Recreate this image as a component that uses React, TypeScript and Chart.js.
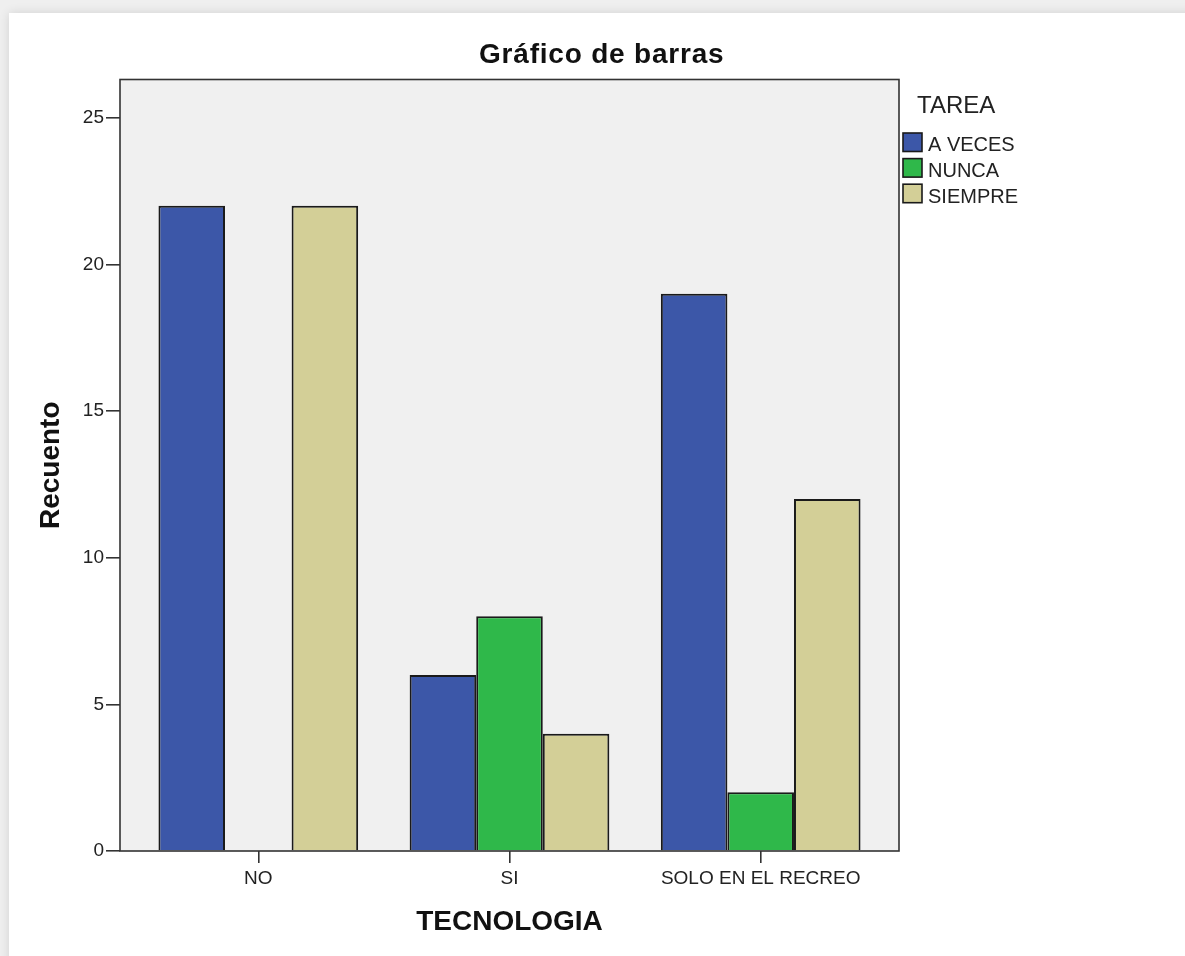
import React, { useEffect, useRef } from "react";
import { Chart, registerables } from "chart.js";

Chart.register(...registerables);

const CATEGORIES = ["NO", "SI", "SOLO EN EL RECREO"];
const SERIES_LABELS = ["A VECES", "NUNCA", "SIEMPRE"];
const A_VECES = [22, 6, 19];
const NUNCA = [0, 8, 2];
const SIEMPRE = [22, 4, 12];
const SERIES_COLORS = ["#3c57a8", "#2fb84a", "#d3cf97"];
const Y_TICKS = [0, 5, 10, 15, 20, 25];
const Y_MAX = 26.3;
const TITLE = "Gráfico de barras";
const LEGEND_TITLE = "TAREA";
const X_TITLE = "TECNOLOGIA";
const Y_TITLE = "Recuento";

const FONT = "'Liberation Sans', Arial, Helvetica, sans-serif";
const PLOT_BG = "#f0f0f0";
const FRAME = "#333333";

const framePlugin = {
  id: "frame",
  beforeDraw(chart: any) {
    const { ctx, chartArea } = chart;
    ctx.save();
    ctx.fillStyle = PLOT_BG;
    ctx.fillRect(chartArea.left, chartArea.top, chartArea.right - chartArea.left, chartArea.bottom - chartArea.top);
    ctx.restore();
  },
  afterDraw(chart: any) {
    const { ctx, chartArea } = chart;
    ctx.save();
    ctx.strokeStyle = FRAME;
    ctx.lineWidth = 1.6;
    ctx.strokeRect(chartArea.left, chartArea.top, chartArea.right - chartArea.left, chartArea.bottom - chartArea.top);

    // main title
    ctx.fillStyle = "#111";
    ctx.font = `bold 28px ${FONT}`;
    (ctx as any).letterSpacing = "0.8px";
    ctx.textAlign = "left";
    ctx.textBaseline = "alphabetic";
    ctx.fillText(TITLE, 479, 63);
    (ctx as any).letterSpacing = "0px";

    // legend
    const lx = 903;
    ctx.font = `24px ${FONT}`;
    ctx.fillStyle = "#222";
    ctx.fillText(LEGEND_TITLE, 917, 113);
    ctx.font = `20px ${FONT}`;
    chart.data.datasets.forEach((ds: any, i: number) => {
      const y = 133 + i * 25.6;
      ctx.fillStyle = ds.backgroundColor;
      ctx.fillRect(lx, y, 19, 18.5);
      ctx.strokeStyle = "#1a1a1a";
      ctx.lineWidth = 1.6;
      ctx.strokeRect(lx, y, 19, 18.5);
      ctx.fillStyle = "#222";
      ctx.fillText(ds.label, 928, y + 18.3);
    });
    ctx.restore();
  },
};

export default function App() {
  const ref = useRef<HTMLCanvasElement | null>(null);

  useEffect(() => {
    if (!ref.current) return;
    const seriesValues = [A_VECES, NUNCA, SIEMPRE];
    const chart = new Chart(ref.current, {
      type: "bar",
      data: {
        datasets: SERIES_LABELS.map((label, si) => ({
          label,
          data: seriesValues[si].map((v, i) => ({ x: i, y: v })),
          backgroundColor: SERIES_COLORS[si],
          borderColor: "#1a1a1a",
          borderWidth: 2,
          categoryPercentage: 0.795,
          barPercentage: 1,
        })),
      },
      options: {
        responsive: false,
        devicePixelRatio: 1,
        animation: false,
        layout: { padding: { top: 79.5, right: 286, bottom: 0, left: 0 } },
        plugins: {
          legend: { display: false },
          title: { display: false },
          tooltip: { enabled: false },
        },
        scales: {
          x: {
            type: "linear",
            min: -0.5506,
            max: 2.5506,
            offset: false,
            afterBuildTicks: (scale: any) => {
              scale.ticks = CATEGORIES.map((_, i) => ({ value: i }));
            },
            afterFit: (scale: any) => {
              scale.height = 105;
              scale.paddingLeft = 0;
              scale.paddingRight = 0;
            },
            border: { display: false },
            grid: {
              offset: false,
              drawOnChartArea: false,
              drawTicks: true,
              tickLength: 12,
              color: FRAME,
              lineWidth: 1.6,
            },
            ticks: {
              autoSkip: false,
              maxRotation: 0,
              padding: 4,
              color: "#222",
              font: { family: FONT, size: 19 },
              callback: (value: any) => CATEGORIES[value as number] ?? "",
            },
            title: {
              display: true,
              text: X_TITLE,
              color: "#111",
              font: { family: FONT, size: 28, weight: "bold" },
              padding: { top: 0, bottom: 17 },
            },
          },
          y: {
            min: 0,
            max: Y_MAX,
            afterBuildTicks: (scale: any) => {
              scale.ticks = Y_TICKS.map((v) => ({ value: v }));
            },
            afterFit: (scale: any) => {
              scale.width = 120;
              scale.paddingTop = 0;
              scale.paddingBottom = 0;
            },
            border: { display: false },
            grid: {
              drawOnChartArea: false,
              drawTicks: true,
              tickLength: 14,
              color: FRAME,
              lineWidth: 1.6,
            },
            ticks: {
              padding: 2,
              color: "#222",
              font: { family: FONT, size: 19 },
            },
            title: {
              display: true,
              text: Y_TITLE,
              color: "#111",
              font: { family: FONT, size: 28, weight: "bold" },
              padding: { top: 34, bottom: 0 },
            },
          },
        },
      } as any,
      plugins: [framePlugin],
    });
    return () => chart.destroy();
  }, []);

  return (
    <div
      style={{
        position: "fixed",
        left: 0,
        top: 0,
        width: 1185,
        height: 956,
        background: "#efefef",
        overflow: "hidden",
      }}
    >
      <div
        style={{
          position: "absolute",
          left: 9,
          top: 13,
          right: -20,
          bottom: -20,
          background: "#ffffff",
          boxShadow: "0 0 10px rgba(0,0,0,0.12)",
        }}
      />
      <canvas
        ref={ref}
        width={1185}
        height={956}
        style={{ position: "absolute", left: 0, top: 0, width: 1185, height: 956 }}
      />
    </div>
  );
}
